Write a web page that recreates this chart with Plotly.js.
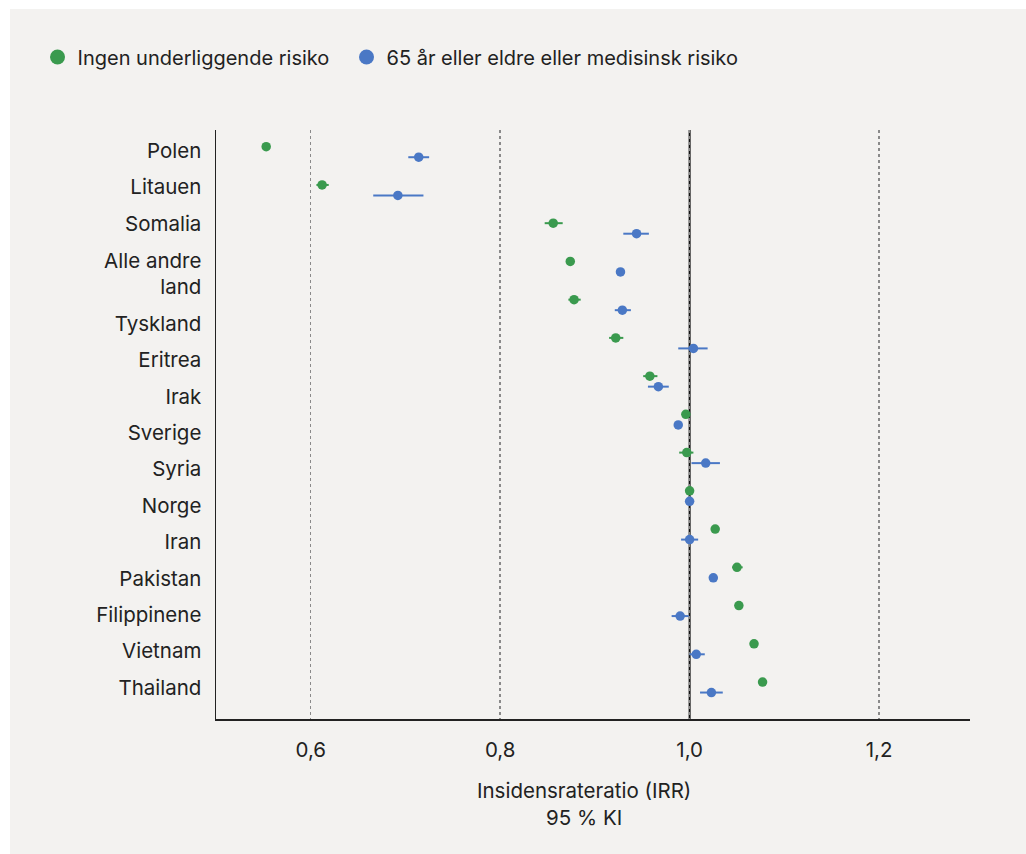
<!DOCTYPE html>
<html><head><meta charset="utf-8">
<script src="https://cdn.plot.ly/plotly-3.0.1.min.js"></script>
<style>
html,body{margin:0;padding:0;background:#ffffff;}
#wrap{position:relative;width:1026px;height:854px;overflow:hidden;}
#bg{position:absolute;left:10px;top:9px;right:0;bottom:0;background:#f3f2f0;}
#chart{position:absolute;left:0;top:0;width:1026px;height:854px;}
</style></head><body>
<div id="wrap"><div id="bg"></div><div id="chart"></div></div>
<script>
// Categories (top to bottom)
const categories = ['Polen','Litauen','Somalia','Alle andre land','Tyskland','Eritrea','Irak','Sverige','Syria','Norge','Iran','Pakistan','Filippinene','Vietnam','Thailand'];
const tickLabels = ['Polen','Litauen','Somalia','Alle andre<br>land','Tyskland','Eritrea','Irak','Sverige','Syria','Norge','Iran','Pakistan','Filippinene','Vietnam','Thailand'];
const xTickVals = [0.6, 0.8, 1.0, 1.2];
const xTickText = ['0,6','0,8','1,0','1,2'];
const seriesNames = ['Ingen underliggende risiko', '65 år eller eldre eller medisinsk risiko'];

// Ingen underliggende risiko (IRR, 95 % KI)
const greenIRR  = [0.553, 0.612, 0.856, 0.874, 0.878, 0.922, 0.958, 0.996, 0.997, 1.000, 1.027, 1.050, 1.052, 1.068, 1.077];
const greenLow  = [0.551, 0.606, 0.847, 0.872, 0.872, 0.915, 0.951, 0.994, 0.989, 0.999, 1.023, 1.045, 1.050, 1.066, 1.075];
const greenHigh = [0.555, 0.619, 0.866, 0.876, 0.885, 0.930, 0.966, 0.998, 1.004, 1.001, 1.030, 1.056, 1.054, 1.070, 1.079];

// 65 år eller eldre eller medisinsk risiko
const blueIRR  = [0.714, 0.692, 0.944, 0.927, 0.929, 1.004, 0.967, 0.988, 1.017, 1.000, 1.000, 1.025, 0.990, 1.007, 1.023];
const blueLow  = [0.703, 0.666, 0.930, 0.925, 0.921, 0.988, 0.956, 0.986, 1.002, 0.999, 0.991, 1.023, 0.981, 1.000, 1.011];
const blueHigh = [0.725, 0.719, 0.957, 0.929, 0.938, 1.019, 0.978, 0.990, 1.032, 1.001, 1.009, 1.027, 0.999, 1.016, 1.035];

const GREEN = '#3a9a4e';
const BLUE = '#4a78c5';
const FONT = 'Inter, "Noto Sans", sans-serif';
const TXT = '#222222';
const FS = 20.5;

const idx = categories.map((c, i) => i);
const blueOffset = 0.275;

function trace(name, vals, lows, highs, color, offset) {
  return {
    type: 'scatter', mode: 'markers', name: name, showlegend: false,
    x: vals,
    y: idx.map(i => i + offset),
    text: categories,
    marker: {color: color, size: 9.5},
    error_x: {
      type: 'data', symmetric: false,
      array: highs.map((h, i) => h - vals[i]),
      arrayminus: lows.map((l, i) => vals[i] - l),
      color: color, thickness: 2, width: 0
    },
    hovertemplate: '%{text}: %{x}<extra></extra>'
  };
}
function legendEntry(name, color, legendId) {
  return {
    type: 'scatter', mode: 'markers', name: name, legend: legendId,
    x: [null], y: [null], marker: {color: color, size: 15}, hoverinfo: 'skip'
  };
}

const data = [
  trace(seriesNames[0], greenIRR, greenLow, greenHigh, GREEN, 0),
  trace(seriesNames[1], blueIRR, blueLow, blueHigh, BLUE, blueOffset),
  legendEntry(seriesNames[0], GREEN, 'legend'),
  legendEntry(seriesNames[1], BLUE, 'legend2')
];

// label layout: rows of labels, two-line label takes extra space
const step = 0.951, first = 0.107, extra = 0.72;
const yTickVals = tickLabels.map((t, k) => {
  let v = first + step * k;
  if (k > 3) v += extra; else if (k === 3) v += extra / 2;
  return v;
});

const legendBase = {
  orientation: 'h', xanchor: 'left', y: 1.124, yanchor: 'middle',
  font: {family: FONT, size: 20, color: TXT},
  bgcolor: 'rgba(0,0,0,0)', itemclick: false, itemdoubleclick: false
};

const layout = {
  width: 1026, height: 854,
  paper_bgcolor: 'rgba(0,0,0,0)',
  plot_bgcolor: 'rgba(0,0,0,0)',
  margin: {l: 216, r: 56, t: 130, b: 135},
  font: {family: FONT, size: FS, color: TXT},
  showlegend: true,
  legend: Object.assign({}, legendBase, {x: -0.2367}),
  legend2: Object.assign({}, legendBase, {x: 0.1731}),
  xaxis: {
    range: [0.5, 1.296], tickvals: xTickVals, ticktext: xTickText,
    showgrid: true, gridcolor: '#8a8a8a', griddash: 'dot', gridwidth: 1.5,
    zeroline: false, showline: true, linecolor: '#222', linewidth: 1.5,
    ticks: '', ticklabelstandoff: 12,
    tickfont: {family: FONT, size: FS, color: TXT}, fixedrange: true
  },
  yaxis: {
    range: [14.967, -0.437], tickvals: yTickVals, ticktext: tickLabels,
    showgrid: false, zeroline: false, showline: true, linecolor: '#222', linewidth: 1.5,
    ticks: '', ticklabelstandoff: 9,
    tickfont: {family: FONT, size: FS, color: TXT}, fixedrange: true
  },
  shapes: [{
    type: 'line', xref: 'x', yref: 'paper', x0: 1.0, x1: 1.0, y0: 0, y1: 1,
    line: {color: '#111', width: 2}, layer: 'below'
  }],
  annotations: [{
    xref: 'paper', yref: 'paper', x: (584 - 216) / 754, y: -0.097,
    xanchor: 'center', yanchor: 'top', showarrow: false, align: 'center',
    text: 'Insidensrateratio (IRR)<br>95 % KI',
    font: {family: FONT, size: FS, color: TXT}
  }]
};

Plotly.newPlot('chart', data, layout, {displayModeBar: false, staticPlot: true});
</script>
</body></html>
